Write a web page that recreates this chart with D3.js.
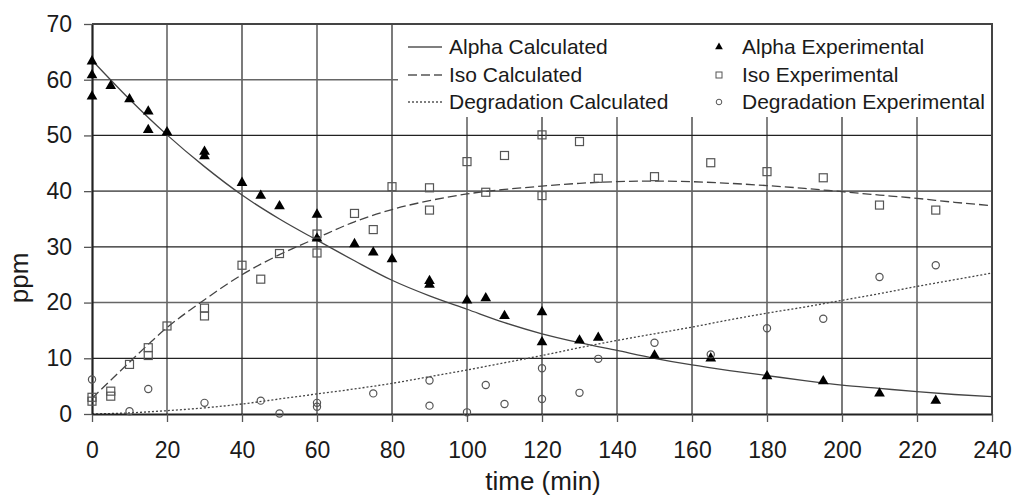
<!DOCTYPE html>
<html>
<head>
<meta charset="utf-8">
<script src="https://cdn.jsdelivr.net/npm/d3@7"></script>
<style>
  body { margin: 0; background: #fff; }
  svg { display: block; font-family: "Liberation Sans", Arial, sans-serif; }
</style>
</head>
<body>
<div id="chart"></div>
<script>
// calculated curves, sampled every 10 min
const calcTime = [0, 10, 20, 30, 40, 50, 60, 70, 80, 90, 100, 110, 120, 130, 140, 150, 160, 170, 180, 190, 200, 210, 220, 230, 240];
const alphaCalc = [63.5, 56.5, 50.1, 44.4, 39.3, 35.0, 31.2, 27.5, 24.0, 21.2, 18.8, 16.4, 14.4, 12.8, 11.4, 10.0, 8.8, 7.8, 6.9, 6.0, 5.2, 4.6, 4.0, 3.5, 3.1];
const isoCalc = [2.8, 9.3, 15.5, 20.5, 25.0, 28.6, 31.6, 34.5, 36.7, 38.3, 39.5, 40.3, 40.9, 41.4, 41.7, 41.8, 41.7, 41.4, 41.0, 40.5, 39.9, 39.3, 38.7, 38.0, 37.4];
const degCalc = [0, 0.2, 0.6, 1.1, 1.8, 2.7, 3.6, 4.5, 5.5, 6.7, 7.9, 9.2, 10.5, 11.9, 13.2, 14.4, 15.6, 16.9, 18.1, 19.2, 20.4, 21.6, 22.9, 24.1, 25.3];

// experimental points
const alphaTime = [0, 0, 0, 5, 10, 15, 15, 20, 30, 30, 40, 45, 50, 60, 60, 70, 75, 80, 90, 90, 100, 105, 110, 120, 120, 130, 135, 150, 165, 180, 195, 210, 225];
const alphaExp = [63.3, 60.8, 57.0, 58.9, 56.5, 54.3, 51.0, 50.6, 47.1, 46.3, 41.5, 39.2, 37.3, 35.8, 31.5, 30.5, 29.0, 27.8, 23.9, 23.2, 20.4, 20.8, 17.6, 18.3, 12.9, 13.2, 13.7, 10.5, 10.0, 6.8, 5.9, 3.7, 2.4];
const isoTime = [0, 0, 5, 5, 10, 15, 15, 20, 30, 30, 40, 45, 50, 60, 60, 70, 75, 80, 90, 90, 100, 105, 110, 120, 120, 130, 135, 150, 165, 180, 195, 210, 225];
const isoExp = [3.0, 2.3, 4.1, 3.2, 8.9, 11.9, 10.5, 15.8, 19.0, 17.6, 26.7, 24.2, 28.8, 28.9, 32.3, 36.0, 33.1, 40.8, 40.6, 36.6, 45.3, 39.8, 46.4, 50.1, 39.2, 48.9, 42.3, 42.6, 45.1, 43.5, 42.4, 37.5, 36.6];
const degTime = [0, 10, 15, 30, 45, 50, 60, 60, 75, 90, 90, 100, 105, 110, 120, 120, 130, 135, 150, 165, 180, 195, 210, 225];
const degExp = [6.2, 0.5, 4.5, 2.0, 2.4, 0.1, 2.0, 1.3, 3.7, 6.0, 1.5, 0.3, 5.2, 1.8, 8.2, 2.7, 3.8, 9.9, 12.8, 10.7, 15.4, 17.1, 24.6, 26.7];

const xTicks = d3.range(0, 241, 20);
const yTicks = d3.range(0, 71, 10);

const svg = d3.select("#chart").append("svg")
    .attr("width", 1016)
    .attr("height", 498);
const margin = {top: 24, right: 24, bottom: 84, left: 92};
const width = 1016 - margin.left - margin.right;
const height = 498 - margin.top - margin.bottom;
const chart = svg.append("g").attr("transform", `translate(${margin.left},${margin.top})`);

const x = d3.scaleLinear().domain([0, 240]).range([0, width]);
const y = d3.scaleLinear().domain([0, 70]).range([height, 0]);

// grid
const grid = chart.append("g");
grid.selectAll(".vg").data(xTicks.slice(1)).join("line")
    .attr("x1", d => x(d)).attr("x2", d => x(d))
    .attr("y1", 0).attr("y2", height)
    .attr("stroke", (d, i) => i % 2 ? "#222" : "#666")
    .attr("stroke-width", (d, i) => i % 2 ? 1.2 : 1.6);
grid.selectAll(".hg").data(yTicks.slice(1)).join("line")
    .attr("x1", 0).attr("x2", width)
    .attr("y1", d => y(d)).attr("y2", d => y(d))
    .attr("stroke", (d, i) => i % 2 ? "#666" : "#222")
    .attr("stroke-width", (d, i) => i % 2 ? 1.6 : 1.2);

// legend background hides the grid
chart.append("rect")
    .attr("x", 306).attr("y", 1)
    .attr("width", width - 307).attr("height", 92)
    .attr("fill", "#fff");

// curves
const line = vals => d3.line()
    .x((d, i) => x(calcTime[i]))
    .y(d => y(d))
    .curve(d3.curveMonotoneX)(vals);

const curves = [
    {vals: alphaCalc, dash: null},
    {vals: isoCalc, dash: "9,4"},
    {vals: degCalc, dash: "2,2"}
];
chart.selectAll(".curve").data(curves).join("path")
    .attr("d", d => line(d.vals))
    .attr("fill", "none")
    .attr("stroke", "#444")
    .attr("stroke-width", 1.3)
    .attr("stroke-dasharray", d => d.dash);

// axes
chart.append("g")
    .attr("transform", `translate(0,${height})`)
    .call(d3.axisBottom(x).tickValues(xTicks).tickSize(8).tickSizeOuter(0))
    .call(g => g.select(".domain").attr("stroke", "#222").attr("stroke-width", 2.2))
    .call(g => g.selectAll(".tick line").attr("stroke", "#555").attr("stroke-width", 1.3))
    .call(g => g.selectAll(".tick text").attr("dy", "0.32em").attr("y", 37)
        .attr("font-size", 23).attr("fill", "#1a1a1a").style("font-family", "Liberation Sans, Arial, sans-serif"));
chart.append("g")
    .call(d3.axisLeft(y).tickValues(yTicks).tickSize(8).tickSizeOuter(0))
    .call(g => g.select(".domain").attr("stroke", "#222").attr("stroke-width", 2.2))
    .call(g => g.selectAll(".tick line").attr("stroke", "#555").attr("stroke-width", 1.3))
    .call(g => g.selectAll(".tick text").attr("x", -20)
        .attr("font-size", 23).attr("fill", "#1a1a1a").style("font-family", "Liberation Sans, Arial, sans-serif"));

// top and right border
chart.append("path")
    .attr("d", `M0,0H${width}V${height}`)
    .attr("fill", "none")
    .attr("stroke", "#444")
    .attr("stroke-width", 2);

// experimental markers
const tri = d3.symbol().type(d3.symbolTriangle).size(50);
chart.selectAll(".tri").data(alphaExp).join("path")
    .attr("transform", (d, i) => `translate(${x(alphaTime[i])},${y(d)})`)
    .attr("d", tri)
    .attr("fill", "#000");
chart.selectAll(".sq").data(isoExp).join("rect")
    .attr("x", (d, i) => x(isoTime[i]) - 4)
    .attr("y", d => y(d) - 4)
    .attr("width", 8).attr("height", 8)
    .attr("fill", "none")
    .attr("stroke", "#555")
    .attr("stroke-width", 1.2);
chart.selectAll(".circ").data(degExp).join("circle")
    .attr("cx", (d, i) => x(degTime[i]))
    .attr("cy", d => y(d))
    .attr("r", 3.6)
    .attr("fill", "none")
    .attr("stroke", "#555")
    .attr("stroke-width", 1.2);

// axis titles
svg.append("text")
    .attr("x", 543).attr("y", 490)
    .attr("text-anchor", "middle")
    .attr("font-size", 26)
    .attr("fill", "#1a1a1a")
    .text("time (min)");
svg.append("text")
    .attr("transform", "translate(28,278) rotate(-90)")
    .attr("text-anchor", "middle")
    .attr("font-size", 26)
    .attr("fill", "#1a1a1a")
    .text("ppm");

// legend
const legCalc = ["Alpha Calculated", "Iso Calculated", "Degradation Calculated"];
const legExp = ["Alpha Experimental", "Iso Experimental", "Degradation Experimental"];
const legY = [47, 75, 102];
const leg = svg.append("g").attr("font-size", 21).attr("fill", "#1a1a1a");
legCalc.forEach((name, i) => {
    leg.append("line")
        .attr("x1", 408).attr("x2", 442)
        .attr("y1", legY[i]).attr("y2", legY[i])
        .attr("stroke", "#555").attr("stroke-width", 1.3)
        .attr("stroke-dasharray", curves[i].dash);
    leg.append("text")
        .attr("x", 449).attr("y", legY[i]).attr("dy", "0.35em")
        .text(name);
});
legExp.forEach((name, i) => {
    const cx = 719, cy = legY[i];
    if (i === 0) {
        leg.append("path").attr("transform", `translate(${cx},${cy})`)
            .attr("d", d3.symbol().type(d3.symbolTriangle).size(26)).attr("fill", "#000");
    } else if (i === 1) {
        leg.append("rect").attr("x", cx - 3).attr("y", cy - 3).attr("width", 6).attr("height", 6)
            .attr("fill", "none").attr("stroke", "#555");
    } else {
        leg.append("circle").attr("cx", cx).attr("cy", cy).attr("r", 2.8)
            .attr("fill", "none").attr("stroke", "#555");
    }
    leg.append("text")
        .attr("x", 742).attr("y", legY[i]).attr("dy", "0.35em")
        .text(name);
});
</script>
</body>
</html>
